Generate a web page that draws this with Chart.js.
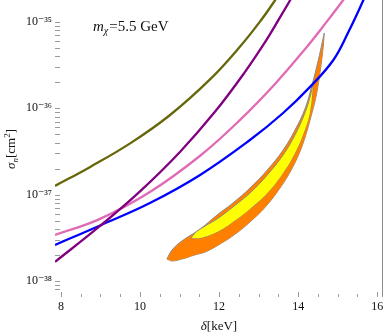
<!DOCTYPE html>
<html>
<head>
<meta charset="utf-8">
<script src="https://cdn.jsdelivr.net/npm/chart.js@4.4.1/dist/chart.umd.min.js"></script>
<style>
    html, body { margin: 0; padding: 0; background: #fff; }
    #wrap { width: 384px; height: 333px; }
</style>
</head>
<body>
<div id="wrap"><canvas id="sigma" width="384" height="333"></canvas></div>
<script>
// axis ranges and labels
const xRange = [7.85, 16.12];
const yRange = [6.5e-39, 1.8e-35];
const xTickLabels = [8, 10, 12, 14, 16];
const yTickExponents = [-38, -37, -36, -35];

// exclusion curves (delta in keV, sigma_n in cm^2)
const oliveX = [7.85, 8.73, 9.75, 10.76, 11.77, 12.53, 13.04, 13.42, 13.80];
const oliveY = [1.26e-37, 2.08e-37, 3.92e-37, 8.36e-37, 2.16e-36, 5.19e-36, 1.02e-35, 1.80e-35, 3.32e-35];

const purpleX = [7.85, 8.99, 10.00, 11.01, 11.90, 12.66, 13.17, 13.54, 13.80, 14.05];
const purpleY = [1.66e-38, 4.33e-38, 1.09e-37, 3.12e-37, 9.16e-37, 2.66e-36, 5.91e-36, 1.13e-35, 1.80e-35, 2.91e-35];

const pinkX = [7.85, 8.99, 10.25, 11.52, 12.53, 13.42, 14.18, 14.68, 15.14, 15.44];
const pinkY = [3.40e-38, 5.23e-38, 1.07e-37, 2.82e-37, 7.34e-37, 1.93e-36, 4.89e-36, 9.51e-36, 1.80e-35, 2.79e-35];

const blueX = [7.85, 8.99, 10.25, 11.52, 12.78, 13.62, 14.30, 14.89, 15.27, 15.65, 15.82];
const blueY = [2.61e-38, 4.39e-38, 7.99e-38, 1.69e-37, 4.29e-37, 8.82e-37, 1.77e-36, 3.63e-36, 7.66e-36, 1.80e-35, 2.83e-35];

// allowed regions: upper and lower edges
const orangeUpX = [10.68, 10.81, 11.06, 11.52, 11.95, 12.35, 12.78, 13.22, 13.62, 13.92, 14.18, 14.35, 14.51, 14.61, 14.66];
const orangeUpY = [1.79e-38, 2.28e-38, 2.90e-38, 3.99e-38, 5.80e-38, 7.99e-38, 1.19e-37, 1.93e-37, 3.29e-37, 5.61e-37, 1.01e-36, 1.86e-36, 3.63e-36, 5.86e-36, 7.46e-36];
const orangeLowX = [10.68, 10.81, 11.06, 11.39, 11.65, 12.03, 12.41, 12.78, 13.17, 13.54, 13.85, 14.10, 14.30, 14.46, 14.56, 14.63, 14.66];
const orangeLowY = [1.79e-38, 1.70e-38, 1.79e-38, 2.00e-38, 2.16e-38, 2.68e-38, 3.49e-38, 4.81e-38, 7.18e-38, 1.19e-37, 2.03e-37, 3.66e-37, 7.31e-37, 1.43e-36, 2.78e-36, 5.00e-36, 7.46e-36];

const yellowUpX = [11.29, 11.42, 11.65, 11.95, 12.35, 12.78, 13.22, 13.62, 13.92, 14.15, 14.30, 14.38];
const yellowUpY = [3.14e-38, 3.69e-38, 4.33e-38, 5.22e-38, 7.18e-38, 1.04e-37, 1.69e-37, 2.88e-37, 4.91e-37, 8.36e-37, 1.35e-36, 1.96e-36];
const yellowLowX = [11.29, 11.52, 11.95, 12.35, 12.78, 13.22, 13.62, 13.92, 14.15, 14.30, 14.38];
const yellowLowY = [3.14e-38, 3.14e-38, 3.69e-38, 4.81e-38, 6.81e-38, 1.04e-37, 1.78e-37, 3.03e-37, 5.31e-37, 9.06e-37, 1.96e-36];

const serif = "'Liberation Serif', 'DejaVu Serif', serif";

function pts(xs, ys) {
    return xs.map((x, i) => ({ x: x, y: ys[i] }));
}

function sup(n) {
    const map = { "-": "\u207B", "0": "\u2070", "1": "\u00B9", "2": "\u00B2", "3": "\u00B3", "4": "\u2074",
        "5": "\u2075", "6": "\u2076", "7": "\u2077", "8": "\u2078", "9": "\u2079" };
    return String(n).split("").map((ch) => map[ch]).join("");
}

function curve(xs, ys, color) {
    return {
        data: pts(xs, ys),
        borderColor: color,
        borderWidth: 2.3,
        pointRadius: 0,
        fill: false,
        tension: 0.4,
    };
}

function edge(xs, ys, color, fill) {
    return {
        data: pts(xs, ys),
        borderColor: "#8a8a8a",
        borderWidth: 1,
        backgroundColor: color,
        pointRadius: 0,
        fill: fill,
        tension: 0.4,
    };
}

// texts, frame line and inward tick marks
const decorations = {
    id: "decorations",
    afterDraw: function (chart) {
        const c = chart.ctx;
        const a = chart.chartArea;
        const xs = chart.scales.x;
        const ys = chart.scales.y;
        c.save();

        c.strokeStyle = "#8c8c8c";
        c.lineWidth = 1;
        c.beginPath();
        c.moveTo(a.right + 0.5, 0);
        c.lineTo(a.right + 0.5, a.bottom);
        c.stroke();

        c.strokeStyle = "#9a9a9a";
        xs.ticks.forEach(function (t) {
            const px = Math.round(xs.getPixelForValue(t.value)) + 0.5;
            const len = xTickLabels.includes(t.value) ? 5 : 3;
            c.beginPath();
            c.moveTo(px, a.bottom);
            c.lineTo(px, a.bottom - len);
            c.stroke();
        });
        ys.ticks.forEach(function (t) {
            const e = Math.floor(Math.log10(t.value) + 1e-9);
            const s = t.value / Math.pow(10, e);
            if (Math.abs(s - Math.round(s)) > 1e-6) return;
            const py = Math.round(ys.getPixelForValue(t.value)) + 0.5;
            c.beginPath();
            c.moveTo(a.left, py);
            c.lineTo(a.left + 5, py);
            c.stroke();
        });

        c.fillStyle = "#111";
        c.textBaseline = "alphabetic";
        c.textAlign = "left";

        // mass label
        let x = 93;
        c.font = "italic 15px " + serif;
        c.fillText("m", x, 31);
        x += c.measureText("m").width;
        c.font = "italic 10px " + serif;
        c.fillText("\u03C7", x, 34);
        x += c.measureText("\u03C7").width + 1;
        c.font = "15px " + serif;
        c.fillText("=5.5 GeV", x, 31);

        // x title
        c.font = "italic 13px " + serif;
        const wd = c.measureText("\u03B4").width;
        c.font = "13px " + serif;
        const wr = c.measureText("[keV]").width;
        x = 219 - (wd + wr) / 2;
        c.font = "italic 13px " + serif;
        c.fillText("\u03B4", x, 330);
        c.font = "13px " + serif;
        c.fillText("[keV]", x + wd, 330);

        // y title
        c.translate(15, 149);
        c.rotate(-Math.PI / 2);
        const parts = [
            ["\u03C3", "italic 13px " + serif, 0],
            ["n", "italic 9px " + serif, 3],
            ["[cm", "13px " + serif, 0],
            ["2", "9px " + serif, -5],
            ["]", "13px " + serif, 0],
        ];
        let total = 0;
        parts.forEach(function (p) { c.font = p[1]; total += c.measureText(p[0]).width; });
        x = -total / 2;
        parts.forEach(function (p) {
            c.font = p[1];
            c.fillText(p[0], x, p[2]);
            x += c.measureText(p[0]).width;
        });
        c.restore();
    },
};

document.addEventListener("DOMContentLoaded", (event) => {
    var ctx = document.getElementById("sigma").getContext("2d");
    var sigma = new Chart(ctx, {
        type: "line",
        data: {
            datasets: [
                curve(oliveX, oliveY, "#66660a"),
                curve(purpleX, purpleY, "#800080"),
                curve(pinkX, pinkY, "#e06ab4"),
                curve(blueX, blueY, "#0000ff"),
                edge(yellowUpX, yellowUpY, "#ffff00", "+1"),
                edge(yellowLowX, yellowLowY, "#ffff00", false),
                edge(orangeUpX, orangeUpY, "#ff8000", "+1"),
                edge(orangeLowX, orangeLowY, "#ff8000", false),
            ],
        },
        options: {
            responsive: false,
            animation: false,
            layout: { padding: { left: 0, right: 2, top: 0, bottom: 0 } },
            scales: {
                x: {
                    type: "linear",
                    min: xRange[0],
                    max: xRange[1],
                    border: { display: false },
                    grid: { display: false, drawTicks: false },
                    ticks: {
                        stepSize: 0.5,
                        includeBounds: false,
                        autoSkip: false,
                        maxRotation: 0,
                        padding: 3,
                        color: "#111",
                        font: { family: serif, size: 12 },
                        callback: function (value) {
                            return xTickLabels.includes(value) ? String(value) : "";
                        },
                    },
                    afterFit: function (scale) {
                        scale.height = 36;
                        scale.paddingLeft = 0;
                        scale.paddingRight = 0;
                    },
                },
                y: {
                    type: "logarithmic",
                    min: yRange[0],
                    max: yRange[1],
                    border: { display: false },
                    grid: { display: false, drawTicks: false },
                    ticks: {
                        autoSkip: false,
                        padding: 3,
                        color: "#111",
                        font: { family: serif, size: 12 },
                        callback: function (value) {
                            const e = Math.round(Math.log10(value));
                            if (Math.abs(Math.log10(value) - e) > 1e-6) return "";
                            return yTickExponents.includes(e) ? "10" + sup(e) : "";
                        },
                    },
                    afterFit: function (scale) {
                        scale.width = 55;
                        scale.paddingTop = 0;
                        scale.paddingBottom = 0;
                    },
                },
            },
            plugins: {
                legend: { display: false },
                tooltip: { enabled: false },
            },
        },
        plugins: [decorations],
    });
});
</script>
</body>
</html>
